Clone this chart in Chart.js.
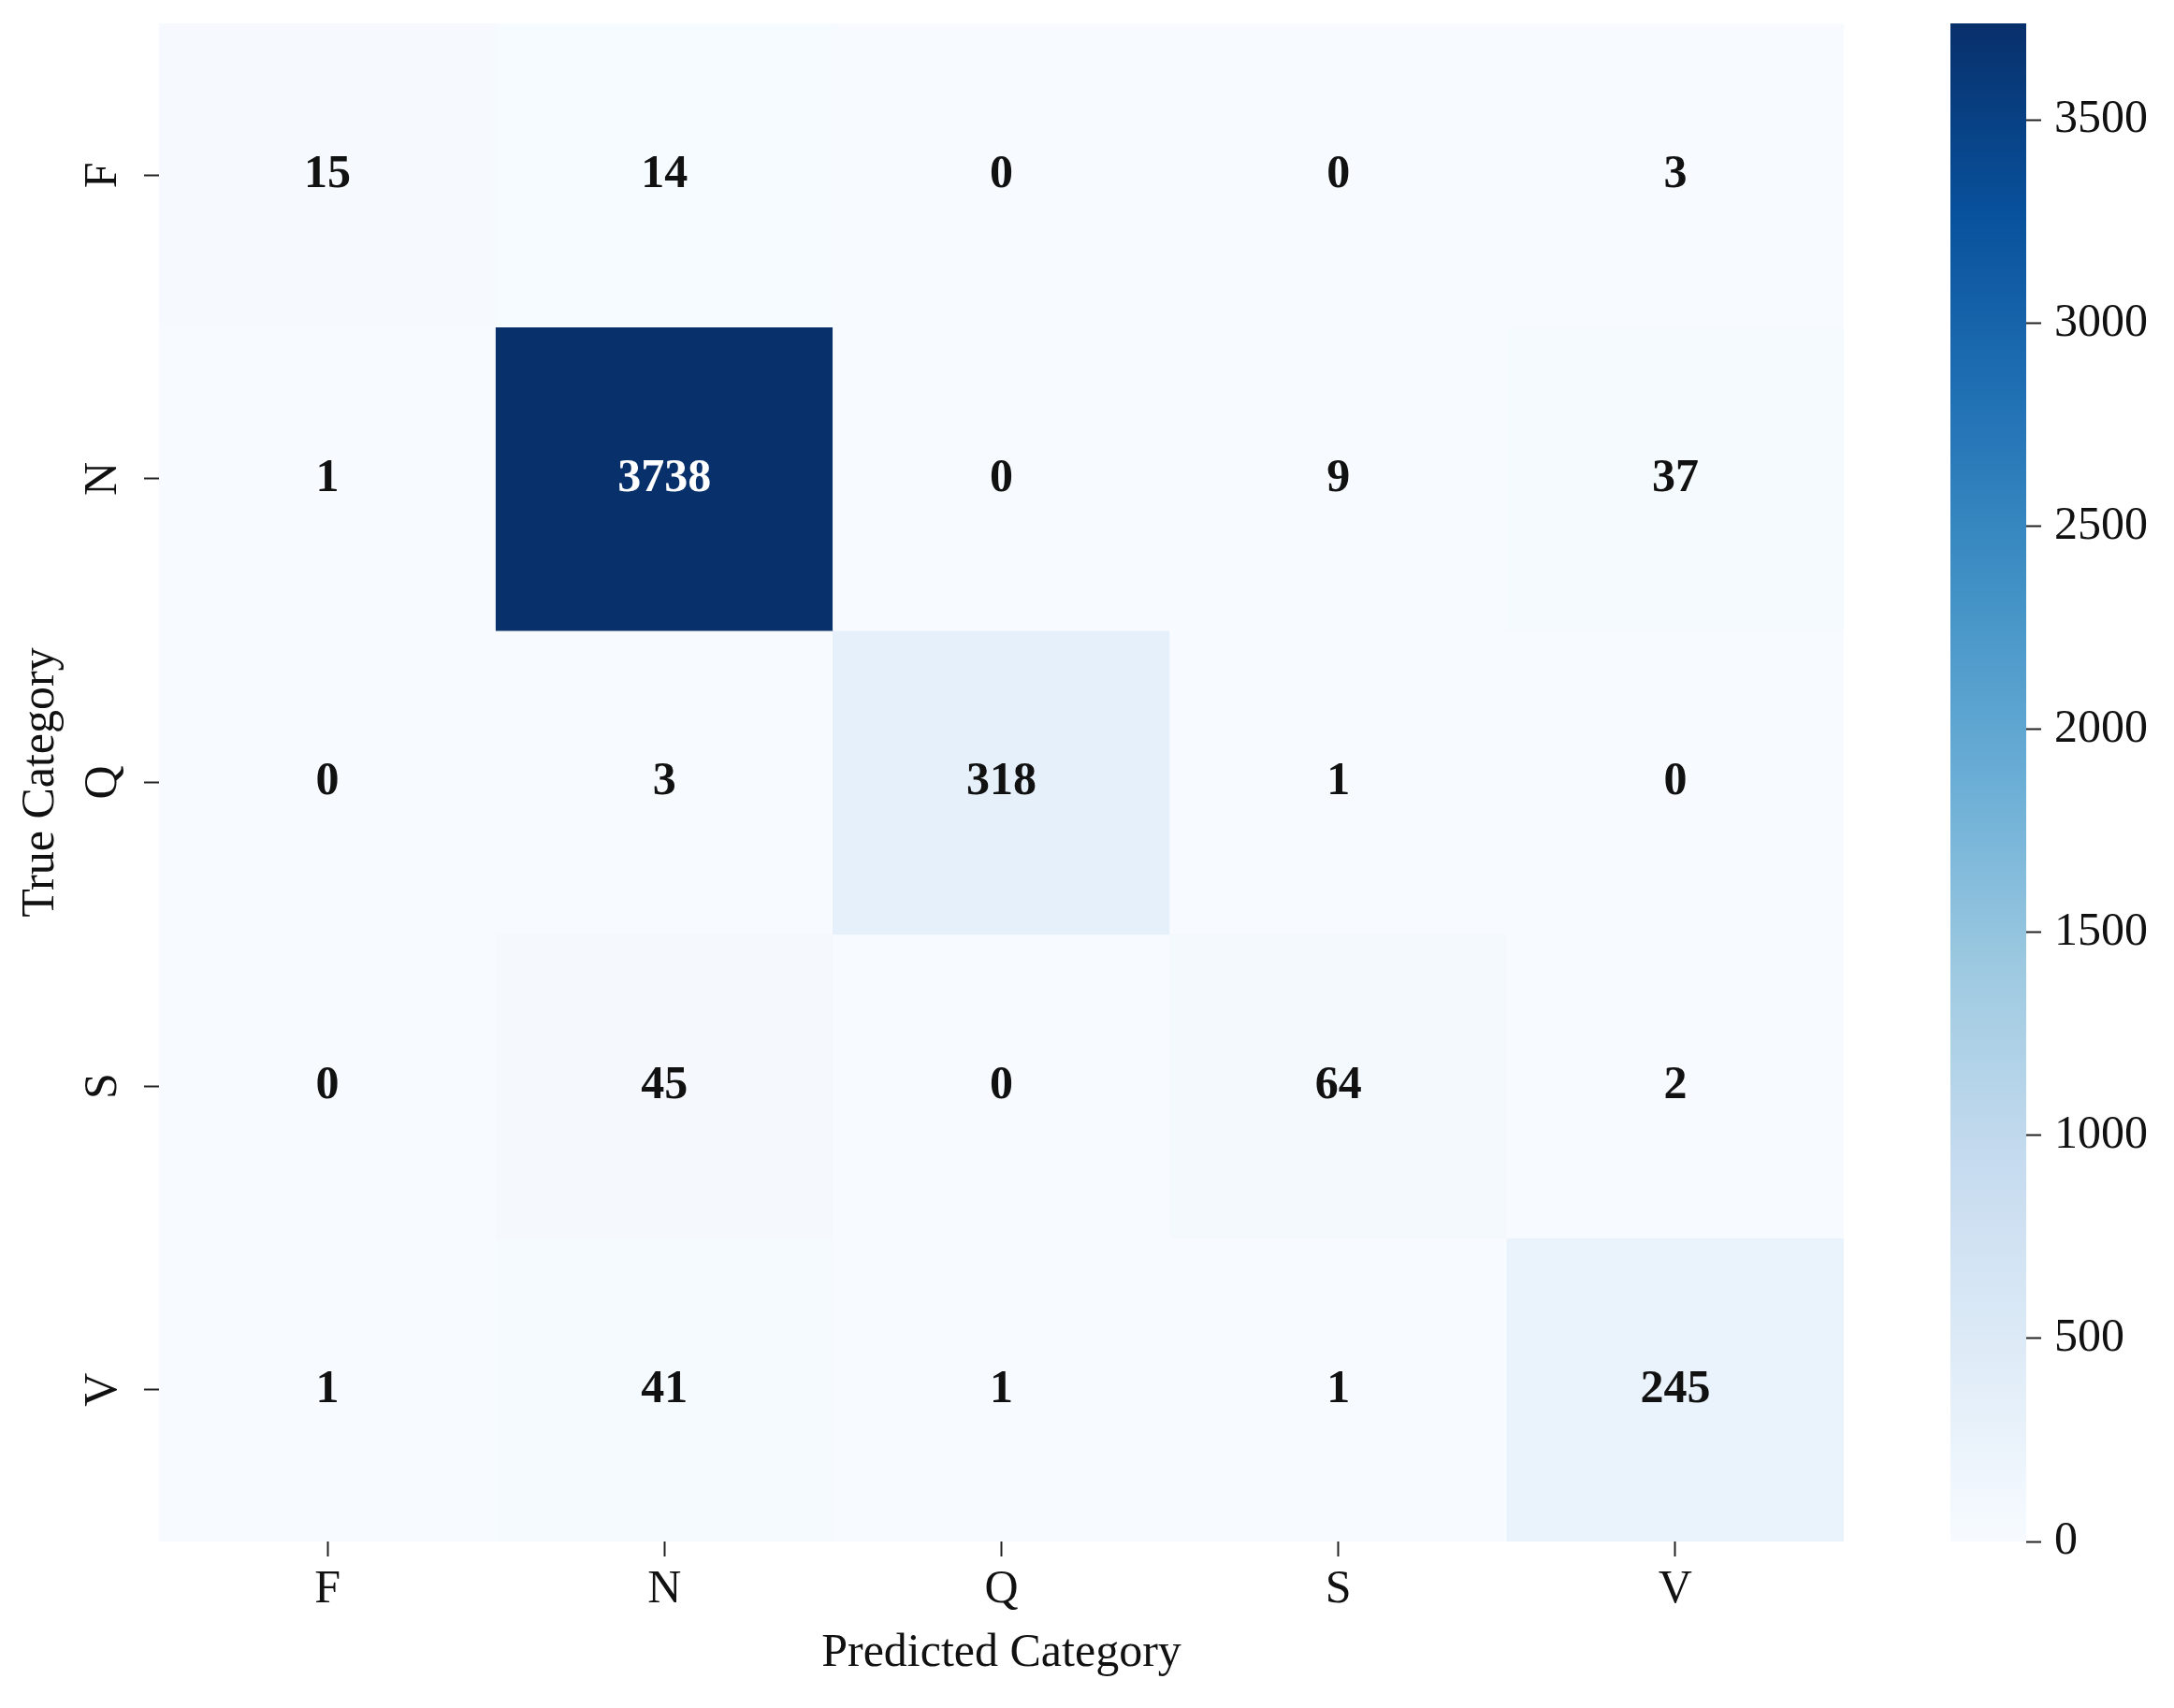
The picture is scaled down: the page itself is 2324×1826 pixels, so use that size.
<!DOCTYPE html>
<html>
<head>
<meta charset="utf-8">
<script src="https://cdn.jsdelivr.net/npm/chart.js@4.4.1/dist/chart.umd.min.js"></script>
<style>
  html, body { margin: 0; padding: 0; background: #fff; }
  #wrap { position: relative; width: 2324px; height: 1826px; }
  #heat { position: absolute; left: 0; top: 0; }
  #bar { position: absolute; left: 2000px; top: 0; }
</style>
</head>
<body>
<div id="wrap">
  <canvas id="heat" width="2000" height="1826"></canvas>
  <canvas id="bar" width="324" height="1826"></canvas>
</div>
<script>
// Categorías (verdadera = filas, predicha = columnas)
const categories = ["F", "N", "Q", "S", "V"];

// Matriz de confusión, una fila por categoría verdadera
const rowF = [15, 14, 0, 0, 3];
const rowN = [1, 3738, 0, 9, 37];
const rowQ = [0, 3, 318, 1, 0];
const rowS = [0, 45, 0, 64, 2];
const rowV = [1, 41, 1, 1, 245];
const rows = [rowF, rowN, rowQ, rowS, rowV];

// Barra de color
const colorbarTicks = [0, 500, 1000, 1500, 2000, 2500, 3000, 3500];
const vmin = 0;
const vmax = 3738;

const serif = "'Liberation Serif', 'Times New Roman', serif";
const fontSize = 50;

// Colormap "Blues" de matplotlib
const bluesStops = ["#f7fbff", "#deebf7", "#c6dbef", "#9ecae1", "#6baed6",
                    "#4292c6", "#2171b5", "#08519c", "#08306b"];

function hexToRgb(h) {
  return [parseInt(h.slice(1, 3), 16), parseInt(h.slice(3, 5), 16), parseInt(h.slice(5, 7), 16)];
}

function blues(t) {
  t = Math.max(0, Math.min(1, t));
  const n = bluesStops.length - 1;
  const i = Math.min(Math.floor(t * n), n - 1);
  const f = t * n - i;
  const a = hexToRgb(bluesStops[i]);
  const b = hexToRgb(bluesStops[i + 1]);
  return a.map((v, k) => Math.round(v + (b[k] - v) * f));
}

function colorFor(v) {
  const c = blues((v - vmin) / (vmax - vmin));
  return `rgb(${c[0]},${c[1]},${c[2]})`;
}

function textColorFor(v) {
  const c = blues((v - vmin) / (vmax - vmin)).map(x => {
    x = x / 255;
    return x <= 0.03928 ? x / 12.92 : Math.pow((x + 0.055) / 1.055, 2.4);
  });
  const lum = 0.2126 * c[0] + 0.7152 * c[1] + 0.0722 * c[2];
  return lum > 0.408 ? "#111" : "#fff";
}

// Cada fila es un dataset de barras flotantes [r-0.5, r+0.5]
const datasets = rows.map((vals, r) => ({
  label: categories[r],
  data: vals.map(() => [r - 0.5, r + 0.5]),
  values: vals,
  backgroundColor: vals.map(colorFor),
  borderWidth: 0,
  grouped: false,
  barPercentage: 1,
  categoryPercentage: 1
}));

// Textos de celdas y etiquetas rotadas del eje Y
const heatText = {
  id: "heatText",
  afterDatasetsDraw(chart) {
    const ctx = chart.ctx;
    ctx.save();
    ctx.font = `bold ${fontSize}px ${serif}`;
    ctx.textAlign = "center";
    ctx.textBaseline = "middle";
    chart.data.datasets.forEach((ds, di) => {
      const meta = chart.getDatasetMeta(di);
      meta.data.forEach((bar, i) => {
        const v = ds.values[i];
        const yc = (bar.y + bar.base) / 2;
        ctx.fillStyle = textColorFor(v);
        ctx.fillText(String(v), bar.x, yc);
      });
    });
    ctx.restore();
  },
  afterDraw(chart) {
    const ctx = chart.ctx;
    const yScale = chart.scales.y;
    ctx.save();
    ctx.font = `${fontSize}px ${serif}`;
    ctx.fillStyle = "#111";
    ctx.textAlign = "center";
    ctx.textBaseline = "middle";
    categories.forEach((c, i) => {
      const y = yScale.getPixelForValue(i);
      ctx.save();
      ctx.translate(111, y);
      ctx.rotate(-Math.PI / 2);
      ctx.fillText(c, 0, 0);
      ctx.restore();
    });
    ctx.restore();
  }
};

const tickGrid = {
  drawOnChartArea: false,
  offset: false,
  tickLength: 16,
  tickWidth: 2,
  tickColor: "#222"
};

new Chart(document.getElementById("heat").getContext("2d"), {
  type: "bar",
  data: { labels: categories, datasets },
  options: {
    responsive: false,
    animation: false,
    devicePixelRatio: 1,
    layout: { padding: { left: 0, right: 29, top: 25, bottom: 0 } },
    plugins: { legend: { display: false }, tooltip: { enabled: false } },
    scales: {
      x: {
        type: "category",
        grid: tickGrid,
        border: { display: false },
        ticks: { color: "#111", font: { family: serif, size: fontSize }, padding: 6, maxRotation: 0 },
        title: {
          display: true,
          text: "Predicted Category",
          color: "#111",
          font: { family: serif, size: fontSize },
          padding: { top: 0, bottom: 28 }
        },
        afterFit: s => { s.height = 178; s.paddingLeft = 0; s.paddingRight = 0; }
      },
      y: {
        type: "linear",
        min: -0.5,
        max: 4.5,
        reverse: true,
        grid: tickGrid,
        border: { display: false },
        afterBuildTicks: s => { s.ticks = categories.map((c, i) => ({ value: i })); },
        ticks: { display: false },
        title: {
          display: true,
          text: "True Category",
          color: "#111",
          font: { family: serif, size: fontSize },
          padding: { top: 14, bottom: 0 }
        },
        afterFit: s => { s.width = 170; s.paddingTop = 0; s.paddingBottom = 0; }
      }
    }
  },
  plugins: [heatText]
});

// Barra de color con degradado
new Chart(document.getElementById("bar").getContext("2d"), {
  type: "bar",
  data: {
    labels: [""],
    datasets: [{
      data: [[vmin, vmax]],
      borderWidth: 0,
      barPercentage: 1,
      categoryPercentage: 1,
      backgroundColor: (context) => {
        const chart = context.chart;
        const area = chart.chartArea;
        if (!area) return bluesStops[0];
        const g = chart.ctx.createLinearGradient(0, area.bottom, 0, area.top);
        bluesStops.forEach((c, i) => g.addColorStop(i / (bluesStops.length - 1), c));
        return g;
      }
    }]
  },
  options: {
    responsive: false,
    animation: false,
    devicePixelRatio: 1,
    layout: { padding: { left: 85, right: 0, top: 25, bottom: 178 } },
    plugins: { legend: { display: false }, tooltip: { enabled: false } },
    scales: {
      x: { display: false },
      y: {
        position: "right",
        min: vmin,
        max: vmax,
        grid: { drawOnChartArea: false, tickLength: 16, tickWidth: 2, tickColor: "#222" },
        border: { display: false },
        afterBuildTicks: s => { s.ticks = colorbarTicks.map(v => ({ value: v })); },
        ticks: {
          color: "#111",
          font: { family: serif, size: fontSize },
          padding: 14,
          callback: v => String(v)
        },
        afterFit: s => { s.width = 158; s.paddingTop = 0; s.paddingBottom = 0; }
      }
    }
  }
});
</script>
</body>
</html>
